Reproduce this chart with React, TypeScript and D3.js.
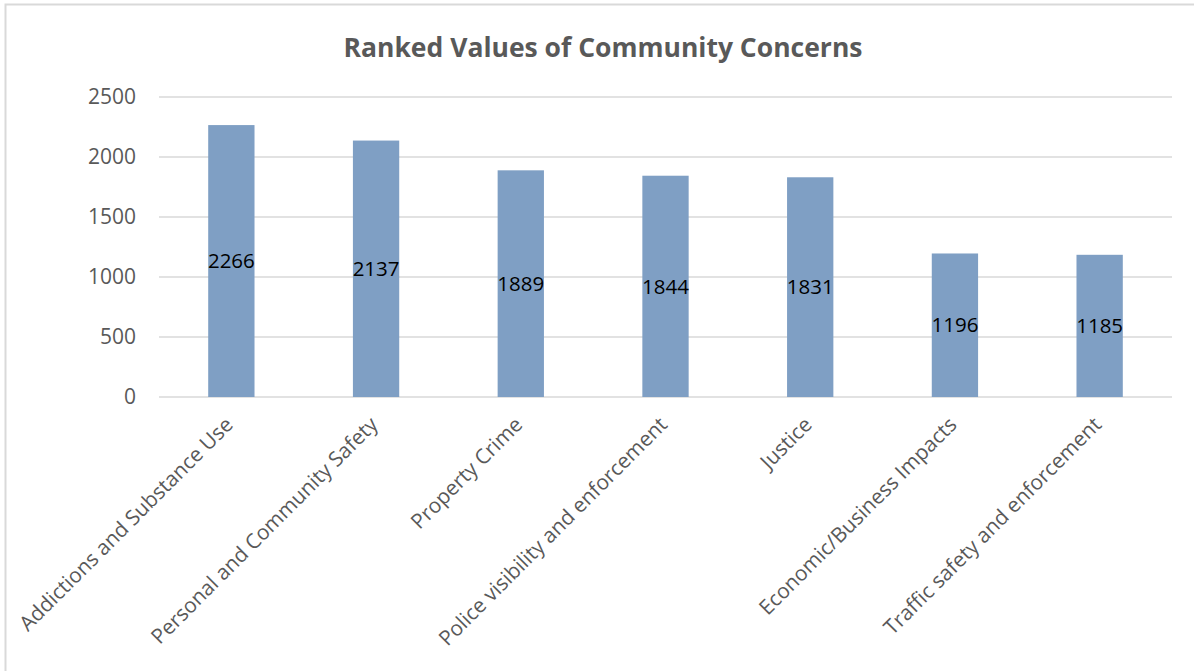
import React, { useEffect, useRef } from 'react';
import * as d3 from 'd3';

const categories = [
  'Addictions and Substance Use',
  'Personal and Community Safety',
  'Property Crime',
  'Police visibility and enforcement',
  'Justice',
  'Economic/Business Impacts',
  'Traffic safety and enforcement',
];
const values = [2266, 2137, 1889, 1844, 1831, 1196, 1185];
const yTicks = [0, 500, 1000, 1500, 2000, 2500];

const App: React.FC = () => {
  const svgRef = useRef<SVGSVGElement>(null);

  useEffect(() => {
    document.body.style.margin = '0';
    if (!svgRef.current) return;
    d3.select(svgRef.current).selectAll('*').remove();

    const width = 1194;
    const height = 671;
    const left = 159;
    const right = 1172;
    const top = 97;
    const bottom = 397;
    const font = '"Open Sans", "Segoe UI", sans-serif';

    const svg = d3.select(svgRef.current).attr('width', width).attr('height', height);

    svg.append('rect')
      .attr('width', width).attr('height', height).attr('fill', '#fff');

    // outer border (only top and left visible in frame)
    svg.append('rect')
      .attr('x', 5.5).attr('y', 4.5)
      .attr('width', width + 10).attr('height', height + 10)
      .attr('fill', 'none').attr('stroke', '#d9d9d9').attr('stroke-width', 2);

    const x = d3.scaleBand<string>().domain(categories).range([left, right]).paddingInner(0.68).paddingOuter(0.34);
    const y = d3.scaleLinear().domain([0, 2500]).range([bottom, top]);

    // title
    svg.append('text')
      .attr('x', 603).attr('y', 57)
      .attr('text-anchor', 'middle')
      .attr('font-family', font).attr('font-weight', 'bold').attr('font-size', 26.5)
      .attr('fill', '#595959')
      .text('Ranked Values of Community Concerns');

    // gridlines
    svg.append('g').selectAll('line').data(yTicks).enter().append('line')
      .attr('x1', left).attr('x2', right)
      .attr('y1', d => y(d)).attr('y2', d => y(d))
      .attr('stroke', '#d9d9d9').attr('stroke-width', 1.5);

    // y tick labels
    svg.append('g').selectAll('text').data(yTicks).enter().append('text')
      .attr('x', 136).attr('y', d => y(d)).attr('dy', '0.35em')
      .attr('text-anchor', 'end')
      .attr('font-family', font).attr('font-size', 21).attr('fill', '#595959')
      .text(d => d);

    // bars
    svg.append('g').selectAll('rect').data(values).enter().append('rect')
      .attr('x', (_, i) => x(categories[i])!)
      .attr('y', d => y(d))
      .attr('width', x.bandwidth())
      .attr('height', d => bottom - y(d))
      .attr('fill', '#7f9fc4');

    // value labels
    svg.append('g').selectAll('text').data(values).enter().append('text')
      .attr('x', (_, i) => x(categories[i])! + x.bandwidth() / 2)
      .attr('y', d => (y(d) + bottom) / 2).attr('dy', '0.35em')
      .attr('text-anchor', 'middle')
      .attr('font-family', font).attr('font-size', 20.5).attr('fill', '#000')
      .text(d => d);

    // category labels
    svg.append('g').selectAll('text').data(categories).enter().append('text')
      .attr('transform', d => `translate(${x(d)! + x.bandwidth() / 2 + 3},${bottom + 29}) rotate(-45)`)
      .attr('text-anchor', 'end')
      .attr('font-family', font).attr('font-size', 20.8).attr('fill', '#595959')
      .text(d => d);
  }, []);

  return <svg ref={svgRef} style={{ display: 'block' }}></svg>;
};

export default App;
